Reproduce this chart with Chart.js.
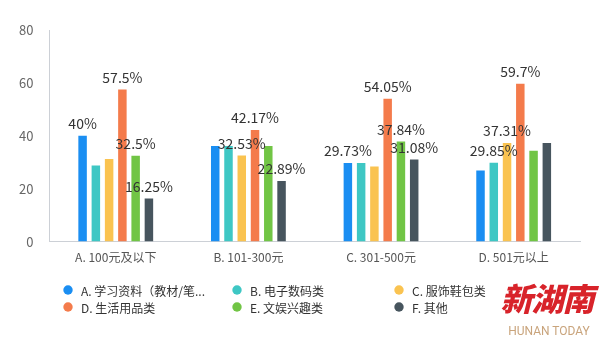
<!DOCTYPE html>
<html>
<head>
<meta charset="utf-8">
<script src="https://cdn.jsdelivr.net/npm/chart.js@4.4.0/dist/chart.umd.min.js"></script>
<style>
    body { margin: 0; background: #fff; }
    #wrap { position: relative; width: 600px; height: 340px; }
    #logo {
        position: absolute; left: 499px; top: 275px; width: 96px;
        font-family: "Noto Sans CJK SC", sans-serif; font-weight: 900;
        font-size: 32px; line-height: 44px; color: #d8232a; font-style: italic;
        letter-spacing: -1px; text-align: center;
    }
    #logo-en {
        position: absolute; left: 505px; top: 324px; width: 88px; text-align: center;
        font-family: "Roboto", sans-serif; font-size: 12px; color: #c9a47c;
    }
</style>
</head>
<body>
<div id="wrap">
    <canvas id="spendChart" width="600" height="340"></canvas>
    <div id="logo">新湖南</div>
    <div id="logo-en">HUNAN TODAY</div>
</div>
<script>
    // price ranges on the x axis
    const categories = ["A. 100元及以下", "B. 101-300元", "C. 301-500元", "D. 501元以上"];
    const seriesNames = ["A. 学习资料（教材/笔...", "B. 电子数码类", "C. 服饰鞋包类", "D. 生活用品类", "E. 文娱兴趣类", "F. 其他"];
    const seriesColors = ["#1a8ef2", "#3ec7c4", "#fac350", "#f47b4b", "#71c545", "#47555e"];

    // percentages per series, one value per price range
    const studyValues = [40, 36.14, 29.73, 26.87];
    const digitalValues = [28.75, 36.14, 29.73, 29.85];
    const clothingValues = [31.25, 32.53, 28.38, 37.31];
    const dailyValues = [57.5, 42.17, 54.05, 59.7];
    const leisureValues = [32.5, 36.14, 37.84, 34.33];
    const otherValues = [16.25, 22.89, 31.08, 37.31];

    // which value labels are visible in the picture (others were hidden)
    const studyShown = [1, 0, 1, 0];
    const digitalShown = [0, 0, 0, 1];
    const clothingShown = [0, 1, 0, 1];
    const dailyShown = [1, 1, 1, 1];
    const leisureShown = [1, 0, 1, 0];
    const otherShown = [1, 1, 1, 0];

    const yTicks = [0, 20, 40, 60, 80];

    const allValues = [studyValues, digitalValues, clothingValues, dailyValues, leisureValues, otherValues];
    const allShown = [studyShown, digitalShown, clothingShown, dailyShown, leisureShown, otherShown];

    const fontFamily = '"Noto Sans CJK SC", "Noto Sans", sans-serif';

    // draws the percent text above the bars
    const valueLabels = {
        id: "valueLabels",
        afterDatasetsDraw(chart) {
            const ctx = chart.ctx;
            ctx.save();
            ctx.font = "14px " + fontFamily;
            ctx.fillStyle = "#333";
            ctx.textAlign = "center";
            ctx.textBaseline = "middle";
            chart.data.datasets.forEach((ds, i) => {
                const meta = chart.getDatasetMeta(i);
                meta.data.forEach((bar, j) => {
                    if (!allShown[i][j]) return;
                    ctx.fillText(ds.data[j] + "%", bar.x, bar.y - 12);
                });
            });
            ctx.restore();
        }
    };

    // legend laid out in 3 fixed columns, 2 rows
    const gridLegend = {
        id: "gridLegend",
        afterDraw(chart) {
            const ctx = chart.ctx;
            const colX = [68, 237, 399];
            const rowY = [290, 307];
            ctx.save();
            ctx.font = "12px " + fontFamily;
            ctx.textBaseline = "middle";
            ctx.textAlign = "left";
            chart.data.datasets.forEach((ds, i) => {
                const x = colX[i % 3];
                const y = rowY[Math.floor(i / 3)];
                ctx.fillStyle = ds.backgroundColor;
                ctx.beginPath();
                ctx.arc(x, y, 4.7, 0, Math.PI * 2);
                ctx.fill();
                ctx.fillStyle = "#333";
                ctx.fillText(ds.label, x + 13, y + 1);
            });
            ctx.restore();
        }
    };

    const datasets = seriesNames.map((name, i) => ({
        label: name,
        data: allValues[i],
        backgroundColor: seriesColors[i],
        categoryPercentage: 0.6,
        barPercentage: 0.64
    }));

    new Chart(document.getElementById("spendChart"), {
        type: "bar",
        data: { labels: categories, datasets: datasets },
        options: {
            responsive: false,
            devicePixelRatio: 1,
            animation: false,
            layout: { padding: { top: 30, left: 3, right: 20, bottom: 66 } },
            plugins: {
                legend: { display: false },
                tooltip: { enabled: false }
            },
            scales: {
                x: {
                    grid: { display: false, drawTicks: false },
                    border: { display: true, color: "#ccd0d6" },
                    ticks: { color: "#555", padding: 9, font: { size: 12, family: fontFamily } }
                },
                y: {
                    min: 0,
                    max: 80,
                    afterBuildTicks: (axis) => { axis.ticks = yTicks.map(v => ({ value: v })); },
                    grid: { display: false, drawTicks: false },
                    border: { display: true, color: "#ccd0d6" },
                    ticks: { color: "#666", padding: 16, font: { size: 13, family: fontFamily } }
                }
            }
        },
        plugins: [valueLabels, gridLegend]
    });
</script>
</body>
</html>
